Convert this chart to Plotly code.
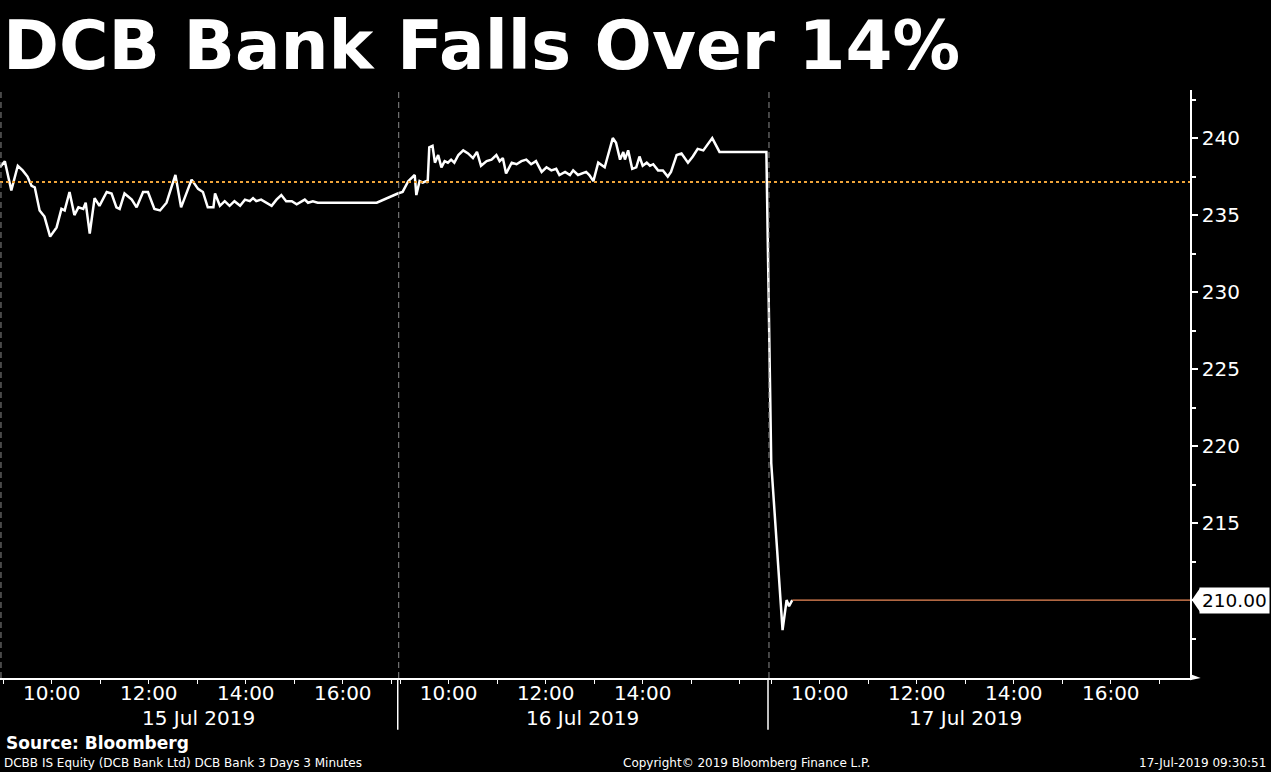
import plotly.graph_objects as go

# days on the chart and the time slot each one takes on the axis
days = ["15 Jul 2019", "16 Jul 2019", "17 Jul 2019"]
windows = [("8:56", "17:08"), ("8:57", "16:35"), ("8:56", "17:38")]
date_label_at = ["13:02", "12:46", "13:00"]
label_hours = [[10, 12, 14, 16], [10, 12, 14], [10, 12, 14, 16]]
price_ticks = [210, 215, 220, 225, 230, 235, 240]

# 3 minute prices, DCBB IS Equity
times_15 = ["8:56", "9:02", "9:10", "9:18", "9:24", "9:30", "9:35", "9:39", "9:45", "9:51",
            "9:58", "10:06", "10:12", "10:16", "10:22", "10:28", "10:33", "10:39", "10:42", "10:47",
            "10:53", "10:59", "11:08", "11:14", "11:20", "11:24", "11:30", "11:39", "11:45", "11:53",
            "11:59", "12:07", "12:14", "12:22", "12:28", "12:33", "12:40", "12:53", "13:01", "13:07",
            "13:13", "13:20", "13:22", "13:28", "13:34", "13:40", "13:46", "13:53", "13:59", "14:05",
            "14:09", "14:13", "14:19", "14:26", "14:32", "14:38", "14:44", "14:50", "14:57", "15:03",
            "15:09", "15:13", "15:17", "15:23", "15:29", "16:42", "17:08"]
price_15 = [238.1, 238.5, 236.6, 238.2, 237.9, 237.5, 236.9, 236.8, 235.3, 234.9,
            233.6, 234.2, 235.4, 235.3, 236.5, 235.0, 235.5, 235.4, 235.8, 233.8,
            236.1, 235.6, 236.5, 236.4, 235.5, 235.4, 236.4, 236.0, 235.5, 236.5,
            236.5, 235.4, 235.3, 235.8, 236.8, 237.6, 235.5, 237.3, 236.7, 236.5,
            235.5, 235.5, 236.4, 235.6, 235.9, 235.6, 235.9, 235.6, 236.0, 235.9,
            236.1, 235.9, 236.0, 235.8, 235.6, 236.0, 236.3, 235.9, 235.9, 235.7,
            235.9, 236.0, 235.8, 235.9, 235.8, 235.8, 236.4]

times_16 = ["9:03", "9:10", "9:18", "9:20", "9:24", "9:28", "9:32", "9:34", "9:36", "9:40",
            "9:43", "9:47", "9:51", "9:55", "9:59", "10:03", "10:07", "10:12", "10:18", "10:24",
            "10:30", "10:35", "10:40", "10:47", "10:53", "10:59", "11:03", "11:07", "11:11", "11:18",
            "11:24", "11:30", "11:36", "11:42", "11:48", "11:55", "12:01", "12:07", "12:13", "12:17",
            "12:24", "12:30", "12:34", "12:40", "12:46", "12:50", "12:54", "12:59", "13:05", "13:13",
            "13:23", "13:27", "13:32", "13:36", "13:38", "13:42", "13:47", "13:52", "13:56", "14:00",
            "14:05", "14:09", "14:13", "14:19", "14:25", "14:28", "14:31", "14:35", "14:42", "14:48",
            "14:56", "15:02", "15:08", "15:15", "15:26", "15:35", "16:33"]
price_16 = [236.5, 237.2, 237.6, 236.3, 237.2, 237.1, 237.2, 237.1, 239.4, 239.5,
            238.4, 238.9, 238.1, 238.5, 238.4, 238.6, 238.4, 238.9, 239.2, 239.0,
            238.7, 239.1, 238.2, 238.5, 238.6, 238.9, 238.5, 238.7, 237.7, 238.4,
            238.3, 238.5, 238.6, 238.3, 238.5, 237.8, 238.1, 237.9, 238.0, 237.6,
            237.8, 237.6, 237.9, 237.6, 237.7, 237.8, 237.6, 237.2, 238.4, 238.1,
            240.0, 239.7, 238.6, 239.1, 238.6, 239.2, 238.0, 238.1, 238.8, 238.2,
            238.4, 238.2, 238.3, 237.9, 237.9, 237.7, 237.5, 237.8, 238.9, 239.0,
            238.4, 238.8, 239.3, 239.2, 240.0, 239.1, 239.1]

times_17 = ["9:00", "9:14", "9:19", "9:22", "9:26"]
price_17 = [218.9, 208.05, 210.0, 209.6, 210.0]

prev_close = 237.15

WHITE = "white"
ORANGE = "#f0a53a"
LAST_COL = "#ec8a58"


def hrs(s):
    h, m = s.split(":")
    return int(h) + int(m) / 60


# each day is laid end to end on one numeric axis (units = hours)
starts = []
pos = 0
for o, c in windows:
    starts.append(pos)
    pos += hrs(c) - hrs(o)
x_end = pos


def xpos(day, t):
    return starts[day] + hrs(t) - hrs(windows[day][0])


xs, ys = [], []
for d, (tt, pp) in enumerate([(times_15, price_15), (times_16, price_16), (times_17, price_17)]):
    xs += [xpos(d, t) for t in tt]
    ys += pp
last_x, last_y = xs[-1], ys[-1]

fig = go.Figure()
fig.add_trace(go.Scatter(x=xs, y=ys, mode="lines", line=dict(color=WHITE, width=2.5),
                         hoverinfo="skip"))
fig.add_trace(go.Scatter(x=[last_x, x_end], y=[last_y, last_y], mode="lines",
                         line=dict(color=LAST_COL, width=1.2), hoverinfo="skip"))
fig.add_hline(y=prev_close, line=dict(color=ORANGE, width=2, dash="dot"))

# day separators
for i, s in enumerate(starts):
    fig.add_shape(type="line", xref="x", yref="paper", x0=s + 0.02, x1=s + 0.02, y0=0, y1=1,
                  line=dict(color="#8a8a8a", width=1, dash="6px,4px"))
    if i > 0:
        fig.add_shape(type="line", xref="x", yref="paper", x0=s, x1=s, y0=0, y1=-0.088,
                      line=dict(color=WHITE, width=1.5))

# x ticks: even hours labelled, every hour ticked
tickvals, ticktext, hour_ticks = [], [], []
for d, (o, c) in enumerate(windows):
    for h in label_hours[d]:
        tickvals.append(xpos(d, "%d:00" % h))
        ticktext.append("%d:00" % h)
    for h in range(9, 18):
        if hrs(o) <= h <= hrs(c):
            hour_ticks.append(xpos(d, "%d:00" % h))

for d, name in enumerate(days):
    fig.add_annotation(text=name, xref="x", x=xpos(d, date_label_at[d]), yref="paper",
                       y=(678 - 718) / 588, yanchor="middle", showarrow=False,
                       font=dict(size=20, color=WHITE))

# last price tag (it sits over the tick label at the same level)
fig.add_annotation(text="%.2f" % last_y, xref="paper", x=1,
                   xanchor="left", xshift=9, yref="y", y=last_y, showarrow=False,
                   bgcolor=WHITE, borderpad=2, font=dict(size=18.5, color="black"))
fig.add_shape(type="path", xref="paper", yref="y", fillcolor=WHITE, line=dict(width=0),
              path="M 1.0085,%f L 1.0015,%f L 1.0085,%f Z" % (last_y + 0.78, last_y, last_y - 0.78))
# arrow at the end of the time axis
fig.add_shape(type="path", xref="paper", yref="paper", fillcolor=WHITE, line=dict(width=0),
              path="M 1,0.007 L 1.009,0 L 1,-0.004 Z")

fig.add_annotation(text="<b>DCB Bank Falls Over 14%</b>", xref="paper", x=0, xanchor="left",
                   xshift=1, yref="paper", y=(678 - 46) / 588, yanchor="middle", showarrow=False,
                   font=dict(size=67.5, color=WHITE))
fig.add_annotation(text="<b>Source: Bloomberg</b>", xref="paper", x=0, xanchor="left", xshift=4,
                   yref="paper", y=(678 - 743) / 588, yanchor="middle", showarrow=False,
                   font=dict(size=17, color=WHITE))
fig.add_annotation(text="DCBB IS Equity (DCB Bank Ltd) DCB Bank 3 Days 3 Minutes", xref="paper",
                   x=0, xanchor="left", xshift=2, yref="paper", y=(678 - 763) / 588,
                   yanchor="middle", showarrow=False, font=dict(size=12, color=WHITE))
fig.add_annotation(text="Copyright© 2019 Bloomberg Finance L.P.", xref="paper", x=746 / 1190,
                   xanchor="center", yref="paper", y=(678 - 763) / 588, yanchor="middle",
                   showarrow=False, font=dict(size=12, color=WHITE))
fig.add_annotation(text="17-Jul-2019 09:30:51", xref="paper", x=1268 / 1190, xanchor="right",
                   yref="paper", y=(678 - 763) / 588, yanchor="middle", showarrow=False,
                   font=dict(size=12, color=WHITE))

fig.update_layout(
    width=1271, height=772,
    paper_bgcolor="black", plot_bgcolor="black",
    margin=dict(l=0, r=81, t=90, b=94),
    showlegend=False,
    font=dict(family="DejaVu Sans", color=WHITE, size=20),
)
fig.update_xaxes(range=[0, x_end], showgrid=False, zeroline=False,
                 showline=True, linecolor=WHITE, linewidth=1.5,
                 tickmode="array", tickvals=tickvals, ticktext=ticktext, ticks="",
                 ticklabelstandoff=-4,
                 tickfont=dict(size=20, color=WHITE),
                 minor=dict(tickmode="array", tickvals=hour_ticks, ticks="outside",
                            ticklen=4, tickcolor=WHITE, showgrid=False))
fig.update_yaxes(side="right", range=[204.94, 243.12], showgrid=False, zeroline=False,
                 showline=True, linecolor=WHITE, linewidth=1.5,
                 tickmode="array", tickvals=price_ticks,
                 ticktext=["" if abs(v - last_y) < 1 else str(v) for v in price_ticks],
                 ticks="outside", ticklen=6, tickwidth=2, tickcolor=WHITE,
                 tickfont=dict(size=20, color=WHITE),
                 minor=dict(tick0=207.5, dtick=5, ticks="outside", ticklen=4,
                            tickcolor=WHITE, showgrid=False))

# the page's default body margin would push the figure off by 8px
fig.write_html("out.html", config={"displayModeBar": False},
               post_script="document.body.style.margin='0';")
